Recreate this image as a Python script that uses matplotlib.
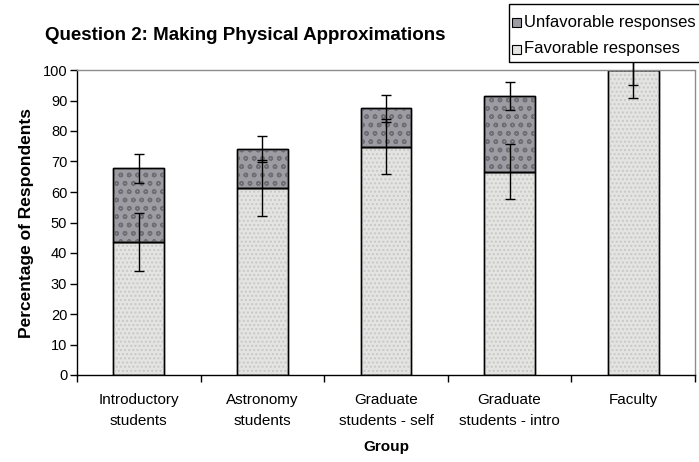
import matplotlib
matplotlib.use("Agg")
import matplotlib.pyplot as plt
from matplotlib.patches import Rectangle

plt.rcParams['font.family'] = ['Liberation Sans', 'DejaVu Sans']

groups = ['Introductory\nstudents', 'Astronomy\nstudents', 'Graduate\nstudents - self',
          'Graduate\nstudents - intro', 'Faculty']
favorable = [43.6, 61.4, 74.9, 66.7, 100.0]
unfavorable = [24.2, 12.6, 12.5, 24.8, 0.0]
favorable_err = [9.5, 9.2, 9.0, 9.0, 9.3]
unfavorable_err = [4.7, 4.3, 4.5, 4.5, 5.0]
legend_labels = ['Unfavorable responses', 'Favorable responses']

fav_color = '#e4e4e2'
unfav_color = '#9c9ca2'

W, H = 699, 462
fig = plt.figure(figsize=(W / 100, H / 100), dpi=100)
ax = fig.add_axes([77 / W, 1 - 375 / H, 618 / W, 305 / H])

x = list(range(len(groups)))
tops = [f + u for f, u in zip(favorable, unfavorable)]
w = 0.41

ax.bar(x, favorable, w, color=fav_color, edgecolor='black', linewidth=1.0, zorder=2)
ax.bar(x, favorable, w, color='none', edgecolor='#c8c8c8', hatch='....', linewidth=0, zorder=2.1)
ax.bar(x, unfavorable, w, bottom=favorable, color=unfav_color, edgecolor='black',
       linewidth=1.0, zorder=2)
ax.bar(x, unfavorable, w, bottom=favorable, color='none', edgecolor='#6e6e74',
       hatch='oo', linewidth=0, zorder=2.1)
# outlines again, over the hatching
ax.bar(x, favorable, w, color='none', edgecolor='black', linewidth=1.0, zorder=2.2)
ax.bar(x, unfavorable, w, bottom=favorable, color='none', edgecolor='black', linewidth=1.0, zorder=2.2)

eb1 = ax.errorbar(x, favorable, yerr=favorable_err, fmt='none', ecolor='black',
                  elinewidth=1.0, capsize=3.3, capthick=1.0, zorder=3)
eb2 = ax.errorbar(x, tops, yerr=unfavorable_err, fmt='none', ecolor='black',
                  elinewidth=1.0, capsize=3.3, capthick=1.0, zorder=3)
for eb in (eb1, eb2):
    for art in eb.lines[1] + eb.lines[2]:
        art.set_clip_on(False)

ax.set_xlim(-0.5, len(groups) - 0.5)
ax.set_ylim(0, 100)
ax.set_yticks(range(0, 101, 10))
ax.tick_params(axis='y', direction='out', length=5, width=1, pad=2, labelsize=10.5)

ax.set_xticks([i - 0.5 for i in range(len(groups) + 1)])
ax.set_xticklabels([])
ax.set_xticks(x, minor=True)
ax.set_xticklabels(groups, minor=True, fontsize=11, linespacing=1.6)
ax.tick_params(axis='x', which='major', direction='out', length=5, width=1)
ax.tick_params(axis='x', which='minor', length=0, pad=13)

for side in ('top', 'right'):
    ax.spines[side].set_color('#8c8c8c')
    ax.spines[side].set_linestyle((0, (1, 1)))
    ax.spines[side].set_linewidth(1.0)
for side in ('left', 'bottom'):
    ax.spines[side].set_color('black')
    ax.spines[side].set_linewidth(1.0)

ax.set_ylabel('Percentage of Respondents', fontsize=12.5, fontweight='bold', labelpad=6)
ax.set_xlabel('Group', fontsize=11, fontweight='bold', labelpad=9)

fig.text(45 / W, 1 - 35 / H, 'Question 2: Making Physical Approximations',
         fontsize=13.5, fontweight='bold', ha='left', va='center')

# legend box runs off the right edge in the original, so build it by hand
fig.add_artist(Rectangle((509 / W, 1 - 62 / H), 200 / W, 58 / H, transform=fig.transFigure,
                         facecolor='white', edgecolor='black', linewidth=1.0, zorder=10))
for i, (lab, col) in enumerate(zip(legend_labels, [unfav_color, fav_color])):
    yc = 22 + i * 27
    fig.add_artist(Rectangle((512 / W, 1 - (yc + 4.5) / H), 9 / W, 9 / H,
                             transform=fig.transFigure, facecolor=col,
                             edgecolor='black', linewidth=0.8, zorder=11))
    fig.text(524 / W, 1 - yc / H, lab, fontsize=12, ha='left', va='center', zorder=11)

fig.savefig('out.png', dpi=100)
